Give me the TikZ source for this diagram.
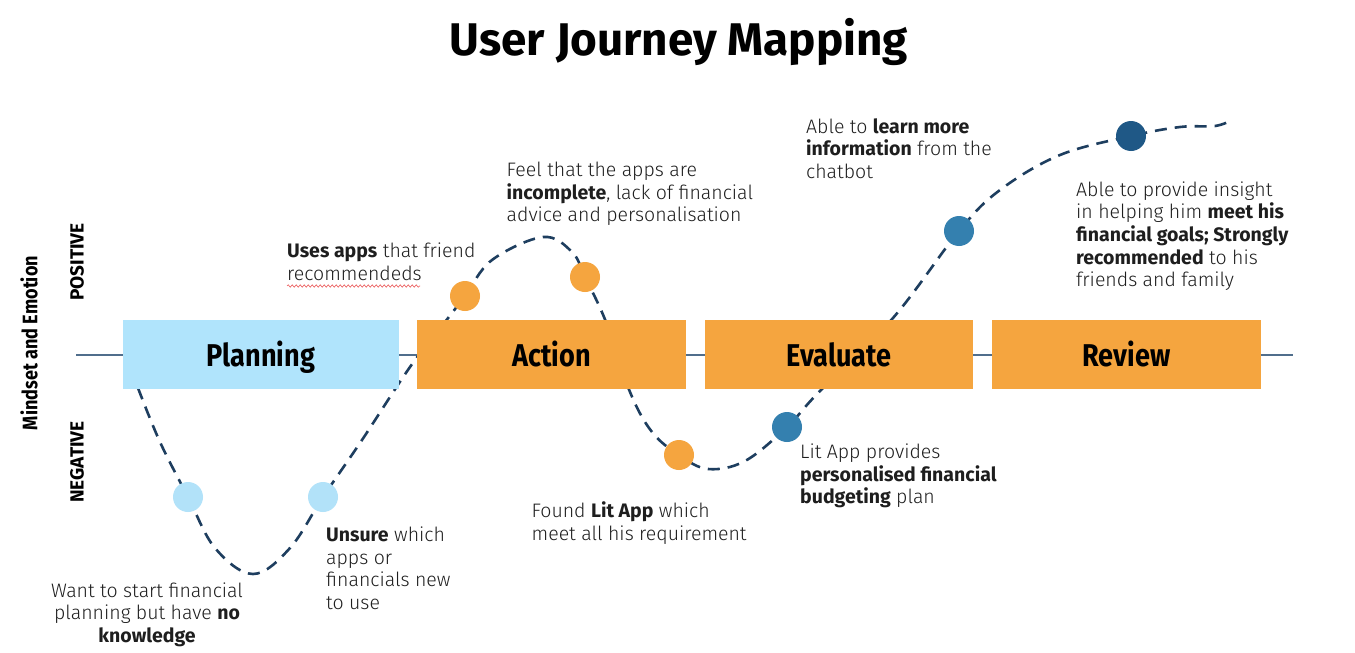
\documentclass[tikz,border=0pt]{standalone}
\usepackage{fontspec}
\IfFontExistsTF{Fira Sans Light}
  {\setmainfont{Fira Sans Light}[BoldFont={Fira Sans Bold}]}
  {\setmainfont{Fira Sans}}
\newfontfamily\headfont{Fira Sans Bold}
\usetikzlibrary{decorations.pathmorphing}
\definecolor{txt}{RGB}{30,30,30}
\definecolor{lblue}{RGB}{176,228,252}
\definecolor{lcirc}{RGB}{178,226,249}
\definecolor{orng}{RGB}{245,165,63}
\definecolor{mblue}{RGB}{52,128,175}
\definecolor{dblue}{RGB}{31,88,134}
\definecolor{dash}{RGB}{30,62,95}
\definecolor{axis}{RGB}{80,110,140}
\definecolor{squig}{RGB}{235,90,90}
\tikzset{
  stagebox/.style={draw=none, minimum width=270pt, minimum height=69pt, inner sep=0pt,
     text height=24pt, text depth=0pt, font=\fontsize{31.5}{36}\selectfont\headfont, text=black},
  dot/.style={circle, minimum size=30pt, inner sep=0pt, draw=none},
  body/.style={anchor=base west, inner sep=0pt, align=left, text=txt,
     font=\fontsize{19.5}{22.7}\selectfont},
  side/.style={rotate=90, inner sep=0pt, text=black, font=\fontsize{19}{22}\selectfont\headfont},
  journey/.style={draw=dash, line width=2.6pt, dash pattern=on 12pt off 8pt},
}
\newcommand{\cnd}[1]{\scalebox{0.86}[1]{#1}}
\begin{document}
\begin{tikzpicture}[x=1pt,y=-1pt]
\useasboundingbox[fill=white] (0,0) rectangle (1355,653);
% title
\node[anchor=base, inner sep=0pt, font=\fontsize{45.8}{54}\selectfont\headfont, text=black] (title) at (679,55) {User Journey Mapping};
% axis labels
\node[side, font=\fontsize{21}{24}\selectfont\headfont] (mind) at (29,343) {\cnd{Mindset and Emotion}};
\node[side] (pos) at (77,262) {POSITIVE};
\node[side] (neg) at (77,462) {NEGATIVE};
% axis line
\coordinate (axL) at (76,355);
\coordinate (axR) at (1293,355);
\draw[axis, line width=1.5pt] (axL) -- (axR);
% journey curve
\draw[journey] plot[smooth, tension=0.6] coordinates {
 (138,388) (160,442) (188,497) (215,548) (253,574) (290,548) (323,497) (362,440)
 (410,367) (445,322) (465,296) (492,260) (543,237) (572,252) (585,277) (606,322)
 (630,392) (652,432) (679,455) (708,469) (745,461) (787,427) (818,393) (893,318)
 (959,231) (1000,190) (1060,155) (1131,136) (1180,127) (1215,126) (1232,120)};
% stage boxes
\node[stagebox, fill=lblue, minimum width=276pt] (plan) at (261,354.5) {\cnd{Planning}};
\node[stagebox, fill=orng, minimum width=269pt] (act) at (551.5,354.5) {\cnd{Action}};
\node[stagebox, fill=orng, minimum width=268pt] (eval) at (839,354.5) {\cnd{Evaluate}};
\node[stagebox, fill=orng, minimum width=269pt] (rev) at (1126.5,354.5) {\cnd{Review}};
% dots
\node[dot, fill=lcirc] (d1) at (188,497) {};
\node[dot, fill=lcirc] (d2) at (323,497) {};
\node[dot, fill=orng] (d3) at (465,296) {};
\node[dot, fill=orng] (d4) at (585,277) {};
\node[dot, fill=orng] (d5) at (679,455) {};
\node[dot, fill=mblue] (d6) at (787,427) {};
\node[dot, fill=mblue] (d7) at (959,231) {};
\node[dot, fill=dblue] (d8) at (1131,136) {};
% texts (anchor = baseline of the last line)
\node[body, anchor=base, align=center] (t1) at (147,642.4) {Want to start financial\\planning but have \textbf{no}\\\textbf{knowledge}};
\node[body] (t2) at (326,609.6) {\textbf{Unsure} which\\apps or\\financials new\\to use};
\node[body] (t3) at (287,280.2) {\textbf{Uses apps} that friend\\recommendeds};
\coordinate (sqA) at (287,286);
\coordinate (sqB) at (420,286);
\draw[squig, line width=0.6pt, decorate, decoration={snake, amplitude=1.2pt, segment length=4pt}] (sqA) -- (sqB);
\node[body] (t4) at (506.5,221.9) {Feel that the apps are\\\textbf{incomplete}, lack of financial\\advice and personalisation};
\node[body] (t5) at (531.5,540.2) {Found \textbf{Lit App} which\\meet all his requirement};
\node[body] (t6) at (800,503.9) {Lit App provides\\\textbf{personalised financial}\\\textbf{budgeting} plan};
\node[body] (t7) at (806,178.4) {Able to \textbf{learn more}\\\textbf{information} from the\\chatbot};
\node[body] (t8) at (1076,286.8) {Able to provide insight\\in helping him \textbf{meet his}\\\textbf{financial goals; Strongly}\\\textbf{recommended} to his\\friends and family};
\end{tikzpicture}
\end{document}
